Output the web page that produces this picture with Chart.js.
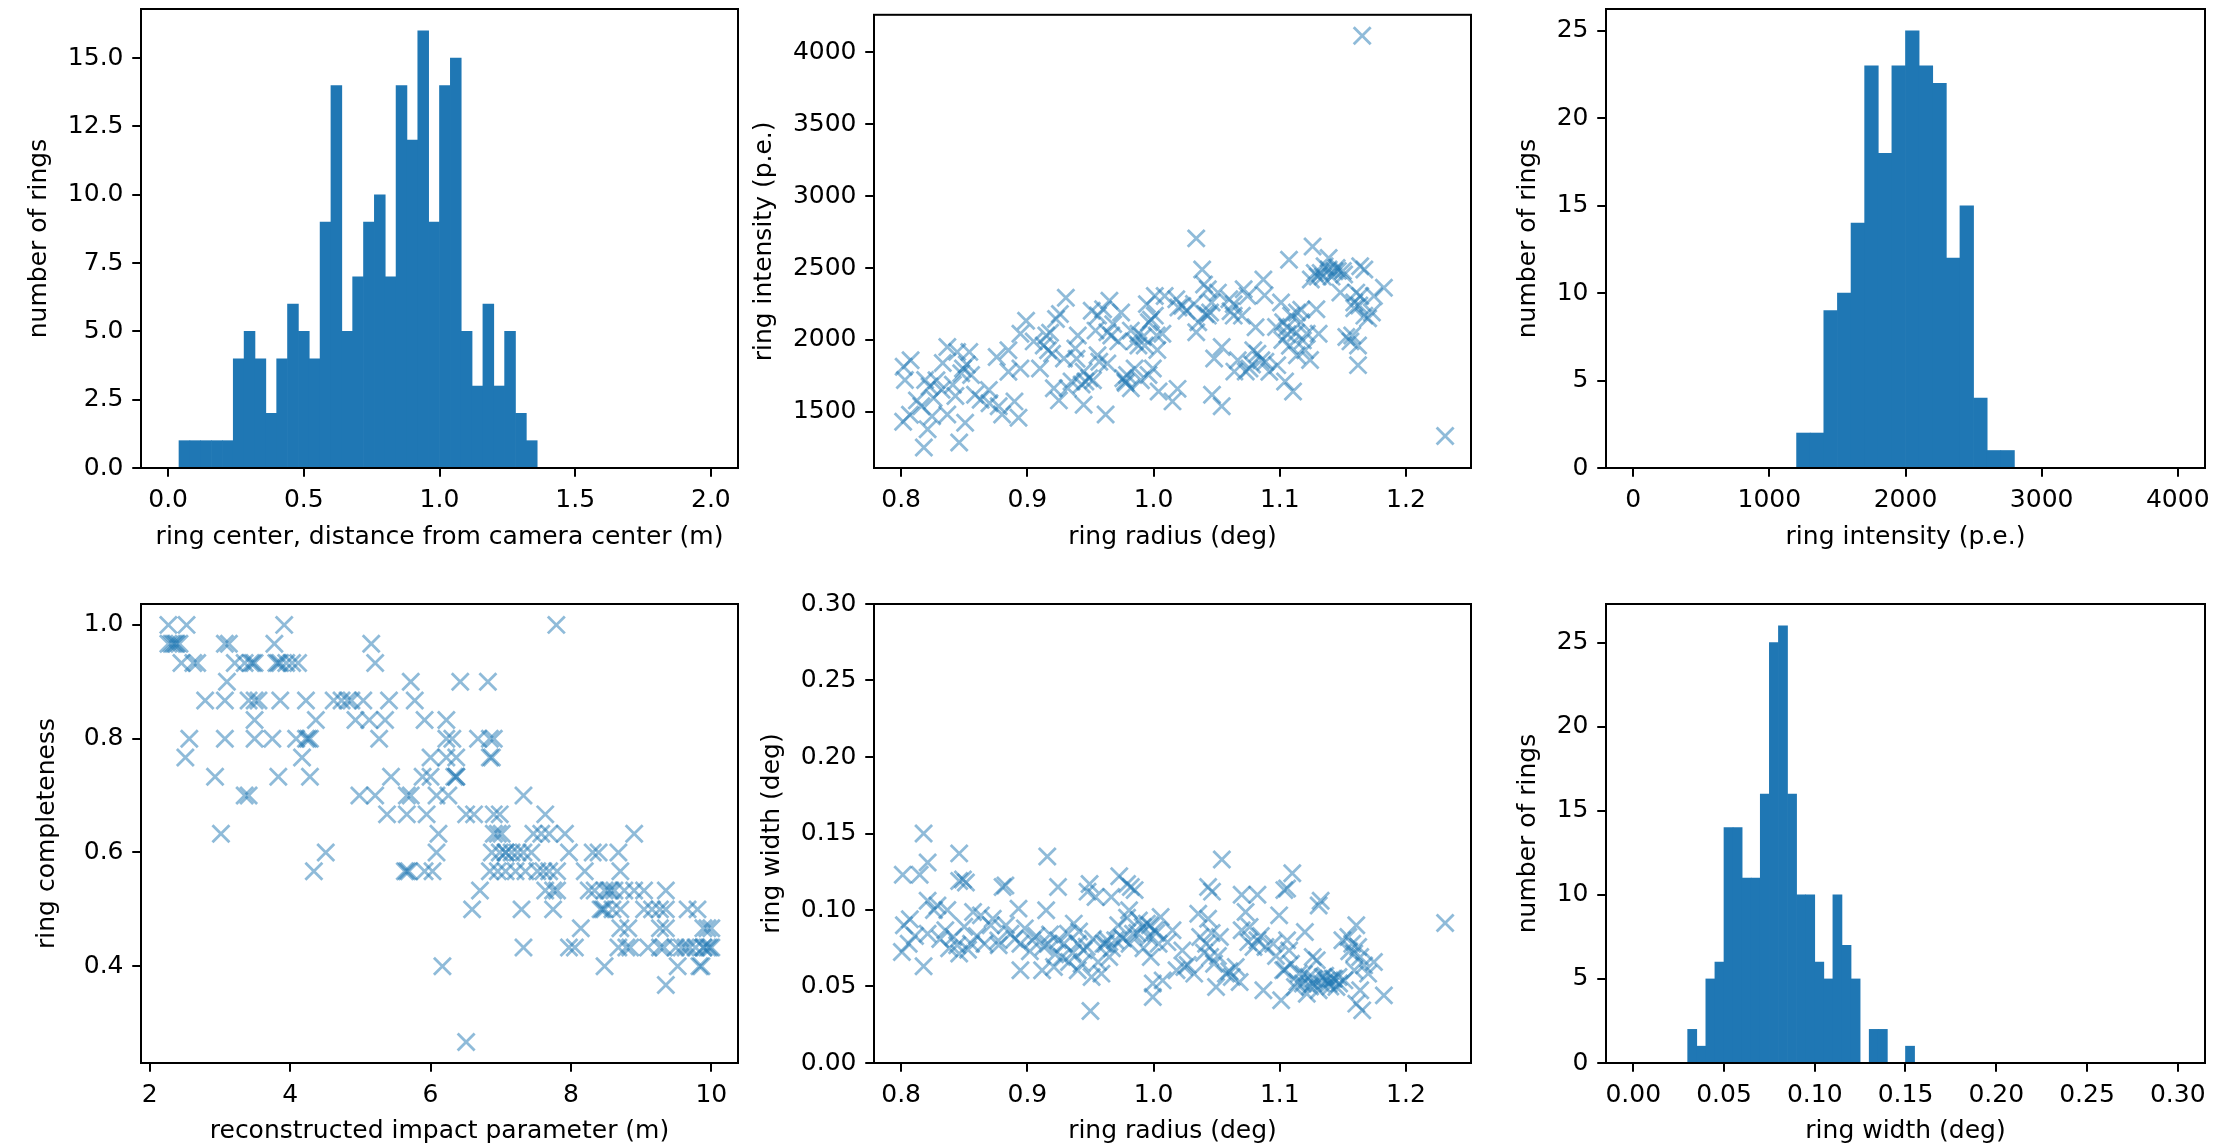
<!DOCTYPE html>
<html><head><meta charset="utf-8">
<script src="https://cdn.jsdelivr.net/npm/chart.js@4.4.1/dist/chart.umd.min.js"></script>
<style>
html,body{margin:0;padding:0;background:#fff;width:2214px;height:1146px;overflow:hidden;}
canvas{position:absolute;}
</style></head><body>
<canvas id="c1"></canvas><canvas id="c2"></canvas><canvas id="c3"></canvas>
<canvas id="c4"></canvas><canvas id="c5"></canvas><canvas id="c6"></canvas>
<script>
// ---------- DATA ----------
// Histogram 1: ring center distance (m), bins of 0.04 from 0 to 2
const distBinStart = 0, distBinWidth = 0.04;
const distCounts = [0,1,1,1,1,1,4,5,4,2,4,6,5,4,9,14,5,7,9,10,7,14,12,16,9,14,15,5,3,6,3,5,2,1,
  0,0,0,0,0,0,0,0,0,0,0,0,0,0,0,0];
// Histogram 2: ring intensity (p.e.), bins of 100 from 0 to 4000
const intBinStart = 0, intBinWidth = 100;
const intCounts = [0,0,0,0,0,0,0,0,0,0,0,0,2,2,9,10,14,23,18,23,25,23,22,12,15,4,1,1,
  0,0,0,0,0,0,0,0,0,0,0,0];
// Histogram 3: ring width (deg), bins of 0.005 from 0 to 0.3
const widBinStart = 0, widBinWidth = 0.005;
const widCounts = [0,0,0,0,0,0,2,1,5,6,14,14,11,11,16,25,26,16,10,10,6,5,10,7,5,0,2,2,0,0,1,
  0,0,0,0,0,0,0,0,0,0,0,0,0,0,0,0,0,0,0,0,0,0,0,0,0,0,0,0,0];

// Scatter A: ring radius (deg) vs ring intensity (p.e.)
const radiusA = [0.802,0.8075,0.803,0.8016,0.818,0.819,0.8225,0.816,0.821,0.8257,
0.832,0.8366,0.8366,0.8444,0.846,0.8476,0.8507,0.854,0.8554,0.849,
0.841,0.8585,0.863,0.8695,0.8757,0.8773,0.88,0.885,0.885,0.8898,
0.893,0.8945,0.8945,0.899,0.91,0.913,0.915,0.9164,0.9196,0.9227,
0.9258,0.921,0.929,0.9305,0.932,0.935,0.938,0.94,0.9446,0.9446,
0.946,0.949,0.951,0.954,0.9556,0.957,0.96,0.962,0.9634,0.965,
0.9665,0.9634,0.9743,0.976,0.9775,0.979,0.982,0.982,0.985,0.988,
0.9915,0.993,0.9947,0.996,0.9994,1.001,1.001,1.0025,1.004,1.007,
1.0088,1.015,1.018,1.0197,1.0228,1.026,1.0338,1.0338,1.0354,1.0385,
1.04,1.043,1.0448,1.0463,1.048,1.051,1.054,1.054,1.06,1.0635,
1.0667,1.07,1.0714,1.0745,1.076,1.079,1.0808,1.0823,1.0854,1.087,
1.0886,1.0917,1.098,1.101,1.1027,1.1042,1.1058,1.1073,1.109,1.1105,
1.1136,1.1136,1.1167,1.1183,1.12,1.1214,1.1246,1.126,1.1277,1.129,
1.1308,1.1324,1.1355,1.1387,1.1387,1.1433,1.145,1.148,1.151,1.1527,
1.1574,1.159,1.1606,1.162,1.1637,1.1637,1.1653,1.167,1.173,1.1746,
1.1825,1.231,1.162,1.167,1.0635,1.043,0.9963,0.988,
0.939,0.943,0.968,0.972,0.985,0.99,0.998,1.003,1.032,1.041,
1.046,1.061,1.073,1.078,1.102,1.106,1.108,1.113,1.124,1.13,
1.134,1.141,1.146,1.15,1.156,1.159,1.163,1.17,0.852,0.843,
0.828,0.8125,0.87,0.905,0.918,0.925,0.952,0.956,0.978,1.019,
1.064,1.088,1.097,1.117,0.807,0.8245,0.833];
const intensityA = [1814,1859,1722,1431,1253,1722,1676,1539,1379,1596,
1653,1951,1482,1917,1287,1768,1424,1917,1756,1802,
1688,1619,1585,1653,1882,1539,1482,1928,1779,1573,
1459,1802,2043,2134,1802,1962,2031,1928,1905,2146,
2180,1665,1871,2294,1665,1711,1940,2031,1779,1550,
1711,1734,2203,2065,1894,1848,2214,1482,1836,2272,
2031,2054,2191,1734,1711,1756,1665,2065,1802,2043,
2020,1962,2249,1756,1802,2306,2169,2031,1642,2043,
2306,1573,2283,2226,2237,2203,2706,2054,2123,2489,
2386,2352,2191,1619,1871,2329,1951,1539,2283,2249,
1859,2169,2352,2306,1802,1928,2088,1905,1859,2420,
1848,1779,1825,2260,2123,1711,2088,2558,2169,1642,
2191,1894,2123,1997,1928,2043,2420,2649,2466,2214,
2043,2466,2512,2569,2489,2478,2500,2329,2455,2020,
2031,2260,2329,1825,2512,2306,4114,2169,2191,2306,
2363,1333,1962,2489,2169,2169,2123,1962,
1870,1690,2110,1990,1990,1720,2140,1930,2250,2180,
2260,2200,1780,1830,2000,2040,1960,2050,1860,2440,
2440,2440,2480,2480,1990,2220,2240,2150,1830,1610,
1720,1580,1560,1990,2050,1580,1720,2170,1700,1660,
1780,2310,2090,2210,1480,1470,1840];

// Scatter B: ring radius (deg) vs ring width (deg)
const radiusB = [0.8178,0.846,0.821,0.8013,0.8147,0.9158,1.0541,1.1099,0.846,0.849,
0.8513,0.8804,0.8826,0.9243,0.9493,0.9477,0.9728,0.979,0.985,0.982,
1.0432,1.0463,1.0698,1.0823,1.1036,1.1058,1.1324,1.1308,0.821,0.8288,
0.8366,0.8069,0.8022,0.8006,0.8178,0.821,0.835,0.8413,0.8444,0.846,
0.8554,0.857,0.8632,0.8726,0.8773,0.8867,0.893,0.8945,0.8945,0.9039,
0.9117,0.9149,0.9164,0.9211,0.9243,0.9274,0.9321,0.9368,0.9399,0.9399,
0.9446,0.943,0.9509,0.954,0.9587,0.9603,0.9634,0.9649,0.9665,0.9696,
0.9759,0.9806,0.9837,0.9884,0.9915,0.9947,0.9962,0.9978,0.9994,0.9994,
1.0009,1.004,1.0056,1.0072,1.015,1.0182,1.0228,1.0244,1.0322,1.0354,
1.0369,1.0416,1.0432,1.0448,1.0479,1.0495,1.0526,1.0573,1.062,1.0651,
1.0682,1.0698,1.0729,1.0761,1.0792,1.0823,1.087,1.0886,1.0948,1.0995,
1.1011,1.1027,1.1058,1.1074,1.1089,1.112,1.1152,1.1183,1.1199,1.1214,
1.123,1.1261,1.1261,1.1293,1.1308,1.134,1.1371,1.1387,1.1418,1.1449,
1.1465,1.1496,1.1512,1.1543,1.1574,1.159,1.1606,1.1621,1.1637,1.1606,
1.1653,1.1668,1.17,1.1746,1.1825,1.231,1.159,1.1637,0.95,
0.806,0.811,0.826,0.831,0.838,0.85,0.853,0.86,0.866,0.871,
0.877,0.883,0.89,0.898,0.902,0.907,0.913,0.918,0.922,0.929,
0.933,0.936,0.941,0.947,0.952,0.956,0.962,0.967,0.972,0.975,
0.979,0.981,0.987,0.992,0.997,1.002,1.011,1.027,1.04,1.046,
1.051,1.06,1.075,1.085,1.097,1.104,1.114,1.119,1.124,1.127,
1.133,1.136,1.14,1.143,1.147,1.155];
const widthB = [0.150,0.137,0.131,0.123,0.123,0.135,0.133,0.124,0.119,0.120,
0.118,0.115,0.116,0.115,0.117,0.112,0.122,0.117,0.113,0.115,
0.115,0.112,0.110,0.110,0.113,0.114,0.106,0.103,0.106,0.103,
0.100,0.094,0.090,0.0725,0.0632,0.0845,0.0867,0.0824,0.0769,0.0715,
0.078,0.0987,0.0965,0.0943,0.0769,0.0845,0.1009,0.078,0.0606,0.0802,
0.0606,0.0998,0.078,0.0627,0.0802,0.0693,0.0845,0.0911,0.078,0.0606,
0.0736,0.0649,0.0562,0.1085,0.0584,0.078,0.0802,0.0693,0.1085,0.0802,
0.0813,0.0998,0.0845,0.0932,0.0889,0.0911,0.0824,0.0693,0.0519,0.0431,
0.0867,0.078,0.0954,0.054,0.0867,0.0606,0.0736,0.0627,0.0584,0.0976,
0.0824,0.078,0.0943,0.0693,0.0649,0.0497,0.0824,0.0584,0.0562,0.0627,
0.0529,0.0867,0.0987,0.0889,0.0758,0.0802,0.0475,0.0758,0.078,0.0965,
0.041,0.0606,0.0802,0.0736,0.0649,0.0497,0.0584,0.0519,0.0856,0.0453,
0.0562,0.0693,0.0519,0.0671,0.0475,0.0562,0.054,0.0519,0.0551,0.0497,
0.0562,0.0802,0.054,0.0824,0.078,0.0715,0.090,0.0758,0.0693,0.0388,
0.0344,0.0638,0.0584,0.066,0.0442,0.0915,0.0606,0.0475,0.034,
0.078,0.083,0.1,0.081,0.075,0.089,0.074,0.083,0.078,0.09,
0.08,0.09,0.081,0.088,0.073,0.083,0.076,0.084,0.071,0.078,
0.066,0.072,0.086,0.076,0.081,0.066,0.078,0.075,0.09,0.082,
0.095,0.078,0.085,0.075,0.09,0.085,0.079,0.064,0.072,0.085,
0.07,0.06,0.079,0.083,0.07,0.061,0.053,0.058,0.05,0.055,
0.052,0.057,0.05,0.055,0.052,0.073];

// Scatter C: reconstructed impact parameter (m) vs ring completeness (grouped by completeness level)
const completenessLevels = [1.0,0.967,0.933,0.9,0.867,0.833,0.8,0.767,0.733,0.7,0.667,0.633,0.6,0.567,0.533,0.5,0.467,0.433,0.4,0.367,0.267];
const impactRows = [
 [2.265,2.524,3.915,7.792],
 [2.265,2.310,2.338,2.366,2.383,2.423,3.070,3.127,3.775,5.155],
 [2.451,2.620,2.676,3.211,3.352,3.437,3.465,3.493,3.803,3.831,3.859,3.944,4.028,4.113,5.211],
 [3.099,5.718,6.423,6.817],
 [2.789,3.070,3.408,3.493,3.549,3.859,4.225,4.620,4.732,4.817,4.873,5.042,5.408,5.775],
 [3.493,4.366,4.930,5.127,5.352,5.915,6.225],
 [2.563,3.070,3.493,3.746,4.085,4.225,4.254,4.282,5.268,6.225,6.310,6.676,6.845,6.901],
 [2.507,4.169,6.000,6.225,6.366,6.845,6.873],
 [2.930,3.831,4.282,5.437,5.887,6.000,6.338,6.366,6.366],
 [3.352,3.408,4.986,5.211,5.662,5.718,6.085,6.254,7.324],
 [5.380,5.662,5.944,6.507,6.620,6.901,6.986,7.634],
 [3.014,6.113,6.901,6.958,7.014,7.465,7.577,7.690,7.915,8.901],
 [4.507,6.085,6.873,6.986,7.070,7.070,7.155,7.239,7.324,7.437,7.972,8.310,8.394,8.676],
 [4.338,5.634,5.662,5.690,5.915,6.028,6.845,6.958,7.070,7.211,7.352,7.521,7.606,7.690,7.803,8.197,8.704],
 [6.704,7.634,7.746,7.803,8.254,8.338,8.479,8.535,8.563,8.620,8.761,8.901,9.042,9.352],
 [6.592,7.296,7.746,8.423,8.451,8.479,8.592,8.704,9.042,9.155,9.268,9.352,9.662,9.803],
 [8.141,8.704,8.817,9.268,9.352,9.887,9.944,10.0],
 [7.324,7.972,8.056,8.676,8.789,8.845,9.099,9.268,9.324,9.493,9.577,9.634,9.690,9.775,9.887,9.887,9.944,9.972,10.0],
 [6.169,8.479,9.521,9.831,9.859],
 [9.352],
 [6.507]
];

// Tick values and labels
const ticksDistX = [0,0.5,1.0,1.5,2.0], labelsDistX = ['0.0','0.5','1.0','1.5','2.0'];
const ticksDistY = [0,2.5,5,7.5,10,12.5,15], labelsDistY = ['0.0','2.5','5.0','7.5','10.0','12.5','15.0'];
const ticksRadX = [0.8,0.9,1.0,1.1,1.2], labelsRadX = ['0.8','0.9','1.0','1.1','1.2'];
const ticksIntY = [1500,2000,2500,3000,3500,4000], labelsIntY = ['1500','2000','2500','3000','3500','4000'];
const ticksIntX = [0,1000,2000,3000,4000], labelsIntX = ['0','1000','2000','3000','4000'];
const ticksCountY25 = [0,5,10,15,20,25], labelsCountY25 = ['0','5','10','15','20','25'];
const ticksImpX = [2,4,6,8,10], labelsImpX = ['2','4','6','8','10'];
const ticksCompY = [0.4,0.6,0.8,1.0], labelsCompY = ['0.4','0.6','0.8','1.0'];
const ticksWidY = [0,0.05,0.10,0.15,0.20,0.25,0.30], labelsWidY = ['0.00','0.05','0.10','0.15','0.20','0.25','0.30'];

// ---------- RENDERING ----------
const FONT = '"DejaVu Sans", sans-serif';
Chart.defaults.font.family = FONT;
Chart.defaults.font.size = 25;
Chart.defaults.color = '#000';
const BAR_COLOR = '#1f77b4';
const PT_COLOR = 'rgba(31,119,180,0.5)';

const framePlugin = {
  id: 'frame',
  afterDatasetsDraw(chart) {
    const {ctx, chartArea: a} = chart;
    ctx.save();
    ctx.strokeStyle = '#000';
    ctx.lineWidth = 2;
    ctx.strokeRect(a.left, a.top, a.right - a.left, a.bottom - a.top);
    ctx.restore();
  }
};

function histData(start, width, counts) {
  const pts = [];
  counts.forEach((c, i) => { if (c > 0) pts.push({x: start + width * (i + 0.5), y: c}); });
  return [{data: pts, backgroundColor: BAR_COLOR, borderWidth: 0, barPercentage: 1, categoryPercentage: 1}];
}
function scatterData(xs, ys) {
  const n = Math.min(xs.length, ys.length);
  const pts = [];
  for (let i = 0; i < n; i++) pts.push({x: xs[i], y: ys[i]});
  return [{data: pts, pointStyle: 'crossRot', pointRadius: 12, pointBorderWidth: 2.8,
    borderColor: PT_COLOR, pointBorderColor: PT_COLOR, backgroundColor: 'rgba(0,0,0,0)', pointBackgroundColor: 'rgba(0,0,0,0)'}];
}
function groupedScatter(levels, rows) {
  const xs = [], ys = [];
  rows.forEach((r, i) => r.forEach(x => { xs.push(x); ys.push(levels[i]); }));
  return scatterData(xs, ys);
}

function axis(a, fit) {
  return {
    type: 'linear', min: a.min, max: a.max, offset: false, bounds: 'data',
    grid: {display: true, drawOnChartArea: false, drawTicks: true, tickLength: 8.75, tickWidth: 2,
      tickColor: '#000', color: '#000', lineWidth: 2, offset: false},
    border: {display: false},
    ticks: {autoSkip: false, maxRotation: 0, minRotation: 0, padding: 8.75, color: '#000',
      font: {size: 25, family: FONT}, callback: (v, i) => a.labels[i]},
    afterBuildTicks: s => { s.ticks = a.ticks.map(v => ({value: v})); },
    afterFit: s => {
      if (fit.width !== undefined) s.width = fit.width;
      if (fit.height !== undefined) s.height = fit.height;
      s.paddingTop = 0; s.paddingBottom = 0; s.paddingLeft = 0; s.paddingRight = 0;
    },
    title: {display: true, text: a.title, color: '#000', font: {size: 25, family: FONT}, padding: fit.titlePad}
  };
}

const TOP = {top: 0, h: 573, padTop: 9, xH: 105, xTitlePad: 21};
const BOT = {top: 573, h: 573, padTop: 31, xH: 83, xTitlePad: 0};
const COL1 = {left: 0, w: 805, yW: 141, padRight: 67};
const COL2 = {left: 720, w: 820, yW: 154, padRight: 69};
const COL3 = {left: 1490, w: 724, yW: 116, padRight: 9};

function panel(id, row, col, type, datasets, xa, ya) {
  const cv = document.getElementById(id);
  cv.width = col.w; cv.height = row.h;
  cv.style.left = col.left + 'px'; cv.style.top = row.top + 'px';
  cv.style.width = col.w + 'px'; cv.style.height = row.h + 'px';
  return new Chart(cv, {
    type: type,
    data: {datasets: datasets},
    options: {
      responsive: false, animation: false, events: [], devicePixelRatio: 1,
      layout: {padding: {top: row.padTop, right: col.padRight, left: 0, bottom: 0}},
      plugins: {legend: {display: false}, tooltip: {enabled: false}},
      scales: {
        x: axis(xa, {height: row.xH, titlePad: {top: 0, bottom: row.xTitlePad}}),
        y: axis(ya, {width: col.yW, titlePad: {top: ya.titlePad, bottom: 0}})
      }
    },
    plugins: [framePlugin]
  });
}

panel('c1', TOP, COL1, 'bar', histData(distBinStart, distBinWidth, distCounts),
  {min: -0.1, max: 2.1, ticks: ticksDistX, labels: labelsDistX, title: 'ring center, distance from camera center (m)'},
  {min: 0, max: 16.8, ticks: ticksDistY, labels: labelsDistY, title: 'number of rings', titlePad: 24});
panel('c2', TOP, COL2, 'scatter', scatterData(radiusA, intensityA),
  {min: 0.7785, max: 1.2515, ticks: ticksRadX, labels: labelsRadX, title: 'ring radius (deg)'},
  {min: 1110, max: 4260, ticks: ticksIntY, labels: labelsIntY, title: 'ring intensity (p.e.)', titlePad: 29});
panel('c3', TOP, COL3, 'bar', histData(intBinStart, intBinWidth, intCounts),
  {min: -200, max: 4200, ticks: ticksIntX, labels: labelsIntX, title: 'ring intensity (p.e.)'},
  {min: 0, max: 26.25, ticks: ticksCountY25, labels: labelsCountY25, title: 'number of rings', titlePad: 23});
panel('c4', BOT, COL1, 'scatter', groupedScatter(completenessLevels, impactRows),
  {min: 1.875, max: 10.38, ticks: ticksImpX, labels: labelsImpX, title: 'reconstructed impact parameter (m)'},
  {min: 0.2300, max: 1.0367, ticks: ticksCompY, labels: labelsCompY, title: 'ring completeness', titlePad: 32});
panel('c5', BOT, COL2, 'scatter', scatterData(radiusB, widthB),
  {min: 0.7785, max: 1.2515, ticks: ticksRadX, labels: labelsRadX, title: 'ring radius (deg)'},
  {min: 0, max: 0.3, ticks: ticksWidY, labels: labelsWidY, title: 'ring width (deg)', titlePad: 37});
panel('c6', BOT, COL3, 'bar', histData(widBinStart, widBinWidth, widCounts),
  {min: -0.015, max: 0.315, ticks: ticksWidY, labels: labelsWidY, title: 'ring width (deg)'},
  {min: 0, max: 27.3, ticks: ticksCountY25, labels: labelsCountY25, title: 'number of rings', titlePad: 23});
</script>
</body></html>
